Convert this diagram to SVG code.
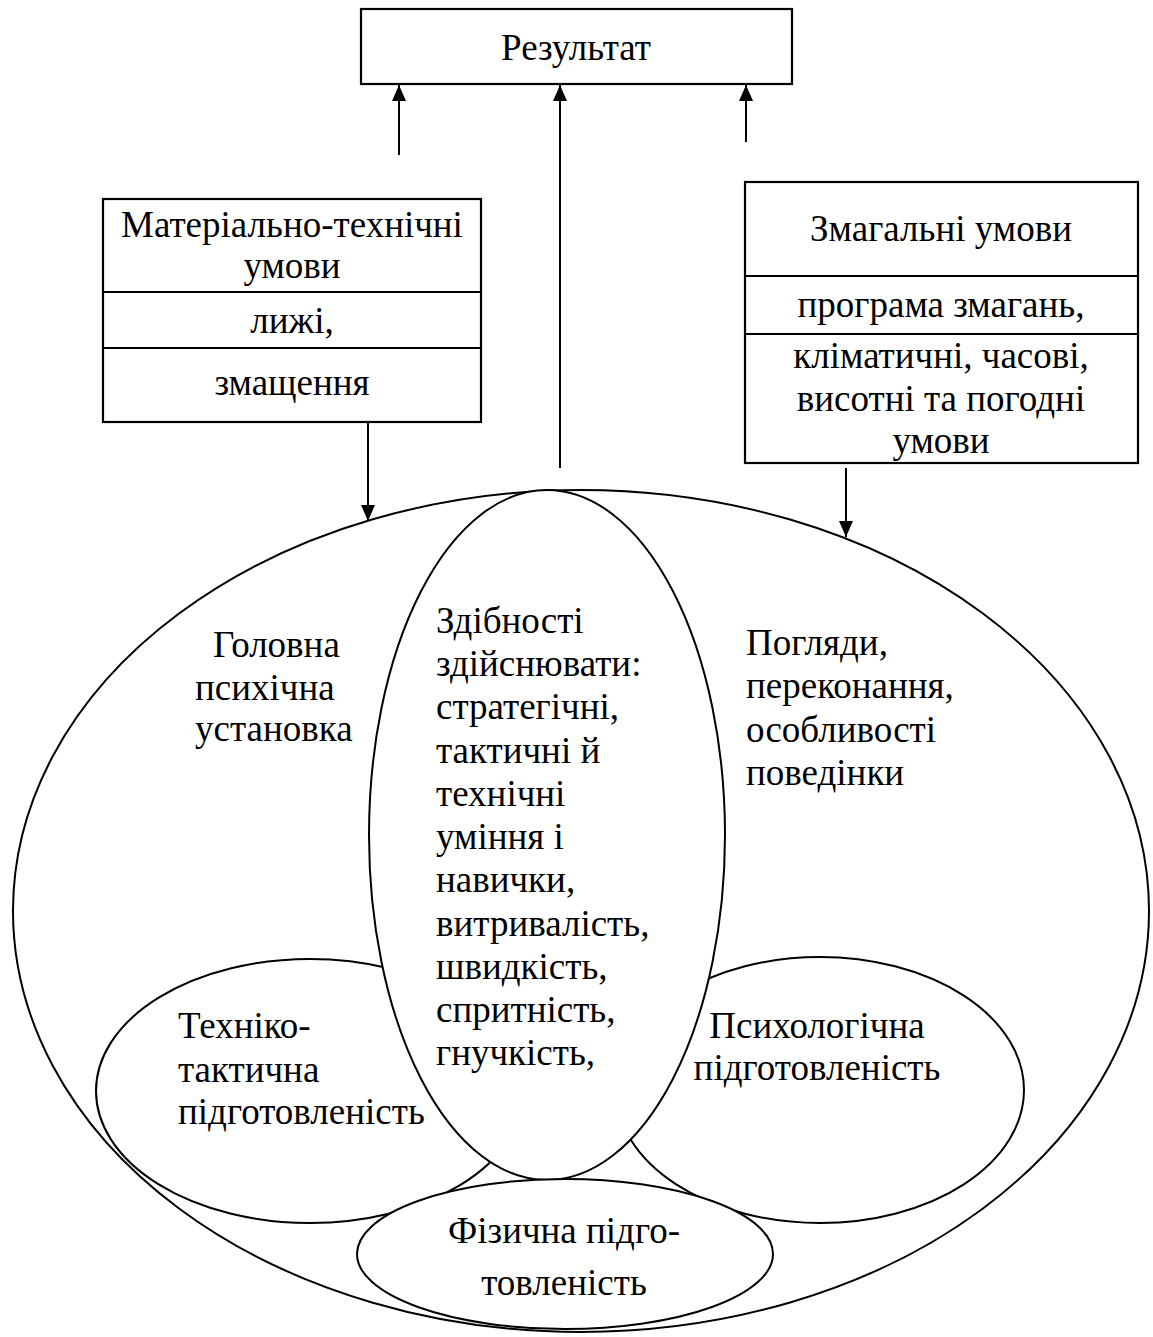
<svg xmlns="http://www.w3.org/2000/svg" width="1153" height="1337" viewBox="0 0 1153 1337">
<style>
text{font-family:"Liberation Serif","Times New Roman",serif;font-size:37px;fill:#000}
.c{text-anchor:middle}
.box{fill:#fff;stroke:#000;stroke-width:2.2}
.sh{fill:#fff;stroke:#000;stroke-width:2}
.ln{stroke:#000;stroke-width:2;fill:none}
</style>
<defs>
<marker id="ah" markerUnits="userSpaceOnUse" markerWidth="16" markerHeight="14" refX="16" refY="7" orient="auto">
<path d="M0,0 L16,7 L0,14 z" fill="#000"/>
</marker>
</defs>
<rect width="1153" height="1337" fill="#fff"/>
<g id="result">
<rect class="box" x="361" y="9" width="431" height="75"/>
<text class="c" x="576" y="60">Результат</text>
</g>
<g id="material">
<rect class="box" x="103" y="199" width="378" height="223"/>
<line class="ln" x1="103" y1="292" x2="481" y2="292"/>
<line class="ln" x1="103" y1="348" x2="481" y2="348"/>
<text class="c" x="292" y="237">Матеріально-технічні</text>
<text class="c" x="292" y="278">умови</text>
<text class="c" x="292" y="333">лижі,</text>
<text class="c" x="292" y="395">змащення</text>
</g>
<g id="competition">
<rect class="box" x="745" y="182" width="393" height="281"/>
<line class="ln" x1="745" y1="276" x2="1138" y2="276"/>
<line class="ln" x1="745" y1="334" x2="1138" y2="334"/>
<text class="c" x="941" y="241">Змагальні умови</text>
<text class="c" x="941" y="317">програма змагань,</text>
<text class="c" x="941" y="368">кліматичні, часові,</text>
<text class="c" x="941" y="411">висотні та погодні</text>
<text class="c" x="941" y="453">умови</text>
</g>
<g id="outer">
<ellipse class="sh" cx="581" cy="911" rx="568" ry="421"/>
<text x="213" y="657">Головна</text>
<text x="195" y="700">психічна</text>
<text x="195" y="741">установка</text>
<text x="746" y="655">Погляди,</text>
<text x="746" y="698">переконання,</text>
<text x="746" y="742">особливості</text>
<text x="746" y="785">поведінки</text>
</g>
<g id="tech">
<ellipse class="sh" cx="310" cy="1091" rx="214" ry="132"/>
<text x="178" y="1038">Техніко-</text>
<text x="178" y="1082">тактична</text>
<text x="178" y="1124">підготовленість</text>
</g>
<g id="psych">
<ellipse class="sh" cx="820" cy="1090" rx="204" ry="133"/>
<text class="c" x="817" y="1038">Психологічна</text>
<text class="c" x="817" y="1080">підготовленість</text>
</g>
<g id="abilities">
<ellipse class="sh" cx="547" cy="835" rx="178" ry="345"/>
<text x="436" y="633">Здібності</text>
<text x="436" y="676">здійснювати:</text>
<text x="436" y="719">стратегічні,</text>
<text x="436" y="763">тактичні й</text>
<text x="436" y="806">технічні</text>
<text x="436" y="849">уміння і</text>
<text x="436" y="892">навички,</text>
<text x="436" y="936">витривалість,</text>
<text x="436" y="979">швидкість,</text>
<text x="436" y="1022">спритність,</text>
<text x="436" y="1065">гнучкість,</text>
</g>
<g id="physical">
<ellipse class="sh" cx="565" cy="1254" rx="208" ry="75"/>
<text class="c" x="564" y="1243">Фізична підго-</text>
<text class="c" x="564" y="1295">товленість</text>
</g>
<g id="connectors">
<line class="ln" x1="399" y1="155" x2="399" y2="85" marker-end="url(#ah)"/>
<line class="ln" x1="560" y1="468" x2="560" y2="85" marker-end="url(#ah)"/>
<line class="ln" x1="746" y1="142" x2="746" y2="85" marker-end="url(#ah)"/>
<line class="ln" x1="368" y1="423" x2="368" y2="521" marker-end="url(#ah)"/>
<line class="ln" x1="846" y1="468" x2="846" y2="537" marker-end="url(#ah)"/>
</g>
</svg>
